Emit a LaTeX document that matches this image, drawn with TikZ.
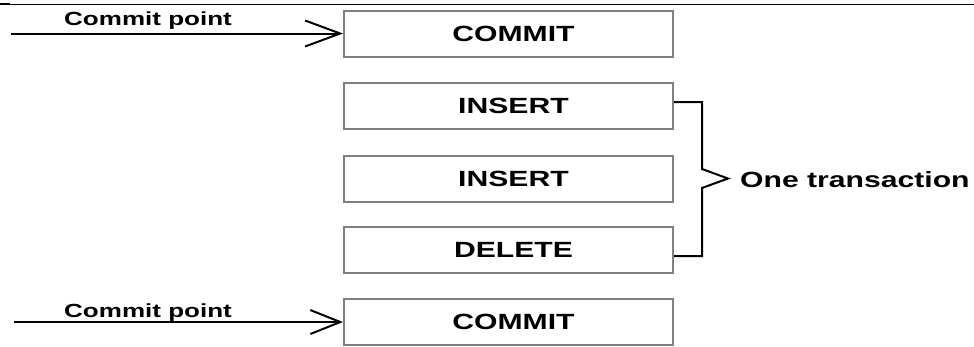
\documentclass[tikz,border=0pt]{standalone}
\usepackage{fontspec}
\setmainfont{Liberation Sans}
\usetikzlibrary{arrows.meta,calc}
\begin{document}
\begin{tikzpicture}[x=1pt,y=-1pt,
  box/.style={draw=black!50,line width=2pt,minimum width=329pt,minimum height=46pt,inner sep=0pt,
    font=\fontsize{22}{26}\selectfont\bfseries},
  lbl/.style={inner sep=0pt,anchor=base west,font=\fontsize{19}{22}\selectfont\bfseries},
  tlbl/.style={inner sep=0pt,anchor=base west,font=\fontsize{22}{26}\selectfont\bfseries},
  cline/.style={line width=2pt,black},
  arr1/.style={cline,-{Straight Barb[length=35pt,width=26pt,line width=2pt]}},
  arr2/.style={cline,-{Straight Barb[length=30pt,width=24pt,line width=2pt]}}]
\useasboundingbox (0,0) rectangle (974,346);
% top rule
\coordinate (r0) at (0,4);
\coordinate (r1) at (974,4);
\coordinate (r2) at (10,4);
\draw[line width=1pt] (r0) -- (r1);
\draw[line width=2.6pt] (r0) -- (r2);
% boxes
\node[box] (c1) at (508.5,33.5) {\hspace*{10pt}\scalebox{1.37}[1]{COMMIT}};
\node[box] (i1) at (508.5,106) {\hspace*{10pt}\scalebox{1.37}[1]{INSERT}};
\node[box] (i2) at (508.5,178.5) {\hspace*{10pt}\scalebox{1.37}[1]{INSERT}};
\node[box] (d1) at (508.5,250) {\hspace*{10pt}\scalebox{1.37}[1]{DELETE}};
\node[box] (c2) at (508.5,322) {\hspace*{10pt}\scalebox{1.37}[1]{COMMIT}};
% commit point arrows
\coordinate (s1) at (11,33.5);
\coordinate (s2) at (14,322);
\draw[arr1] (s1) -- (c1.west);
\draw[arr2] (s2) -- (c2.west);
\node[lbl] (l1) at (64,25.5) {\scalebox{1.37}[1]{Commit point}};
\node[lbl] (l2) at (64,317) {\scalebox{1.37}[1]{Commit point}};
% bracket
\coordinate (b0) at ($(i1.east)+(0,-4)$);
\coordinate (b1) at (702,102);
\coordinate (b2) at (702,169);
\coordinate (tip) at (728,178.5);
\coordinate (b3) at (702,188);
\coordinate (b4) at (702,256);
\coordinate (b5) at ($(d1.east)+(0,6)$);
\draw[cline,line join=miter] (b0) -- (b1) -- (b2) -- (tip) -- (b3) -- (b4) -- (b5);
\node[tlbl] (ot) at (740,187) {\scalebox{1.37}[1]{One transaction}};
\end{tikzpicture}
\end{document}
